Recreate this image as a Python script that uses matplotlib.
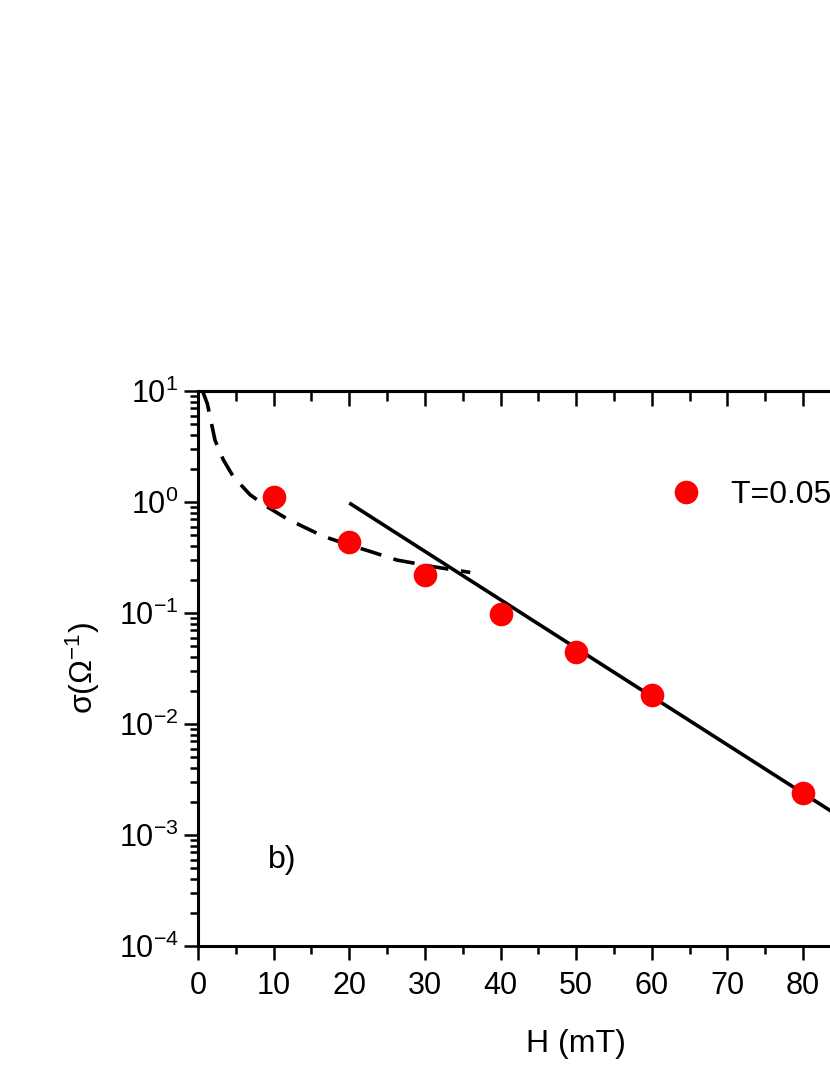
import numpy as np
import matplotlib
matplotlib.use("Agg")
import matplotlib.pyplot as plt
from matplotlib.ticker import LogLocator, MultipleLocator, NullFormatter

plt.rcParams['font.family'] = ['Liberation Sans', 'DejaVu Sans']
plt.rcParams['mathtext.fontset'] = 'custom'
plt.rcParams['mathtext.rm'] = 'Liberation Sans'
plt.rcParams['mathtext.it'] = 'Liberation Sans'
plt.rcParams['mathtext.default'] = 'regular'

# measured points (red circles)
H_data = [10, 20, 30, 40, 50, 60, 80]
sigma_data = [1.11, 0.436, 0.22, 0.098, 0.0445, 0.0182, 0.0024]

# dashed curve
H_dash = [0.6, 1.23, 2.25, 3.35, 4.67, 6.9, 9.1, 11.7, 13.9, 16.6, 20, 22.7, 26.3, 31.3, 36]
sigma_dash = [10, 7.7, 3.6, 2.4, 1.69, 1.16, 0.91, 0.71, 0.60, 0.49, 0.41, 0.36, 0.30, 0.26, 0.232]

# solid straight fit (exponential)
H_fit = [20, 100]
sigma_fit = [0.98, 3.2e-4]

legend_label = 'T=0.05 K'

fig = plt.figure(figsize=(8.3, 10.75), dpi=100)
ax = fig.add_axes([198 / 830, 129 / 1075, 756.25 / 830, 555 / 1075])

ax.plot(H_dash, sigma_dash, color='black', lw=2.6, dashes=(6, 3.5))
ax.plot(H_fit, sigma_fit, color='black', lw=2.6, solid_capstyle='butt')
ax.plot(H_data, sigma_data, 'o', color='red', ms=17, mec='none', label=legend_label)

ax.set_yscale('log')
ax.set_xlim(0, 100)
ax.set_ylim(1e-4, 10)

ax.xaxis.set_major_locator(MultipleLocator(10))
ax.xaxis.set_minor_locator(MultipleLocator(5))
ax.yaxis.set_major_locator(LogLocator(base=10, numticks=10))
ax.yaxis.set_minor_locator(LogLocator(base=10, subs=np.arange(2, 10), numticks=20))
ax.yaxis.set_minor_formatter(NullFormatter())

for s in ax.spines.values():
    s.set_linewidth(2.2)

ax.tick_params(axis='both', which='major', labelsize=22, width=1.8, length=10, direction='out')
ax.tick_params(axis='both', which='minor', width=1.8, length=6, direction='out')
ax.tick_params(axis='x', which='major', pad=8)
ax.tick_params(axis='y', which='major', pad=4)

# top ticks point inward
top = ax.secondary_xaxis('top')
top.xaxis.set_major_locator(MultipleLocator(10))
top.xaxis.set_minor_locator(MultipleLocator(5))
top.tick_params(which='major', direction='in', length=11, width=1.8, labeltop=False)
top.tick_params(which='minor', direction='in', length=7, width=1.8)
top.spines['top'].set_linewidth(2.2)

ax.set_xlabel('H (mT)', fontsize=23, labelpad=20)
ax.set_ylabel('σ(Ω$^{-1}$)', fontsize=23, labelpad=12)

ax.text(9.2, 6e-4, 'b)', fontsize=23, va='center', ha='left')

ax.legend(loc='center left', bbox_to_anchor=(0.565, 0.813), frameon=False,
          fontsize=23, handletextpad=0.4, markerscale=1.0)

fig.savefig('out.png', dpi=100)
